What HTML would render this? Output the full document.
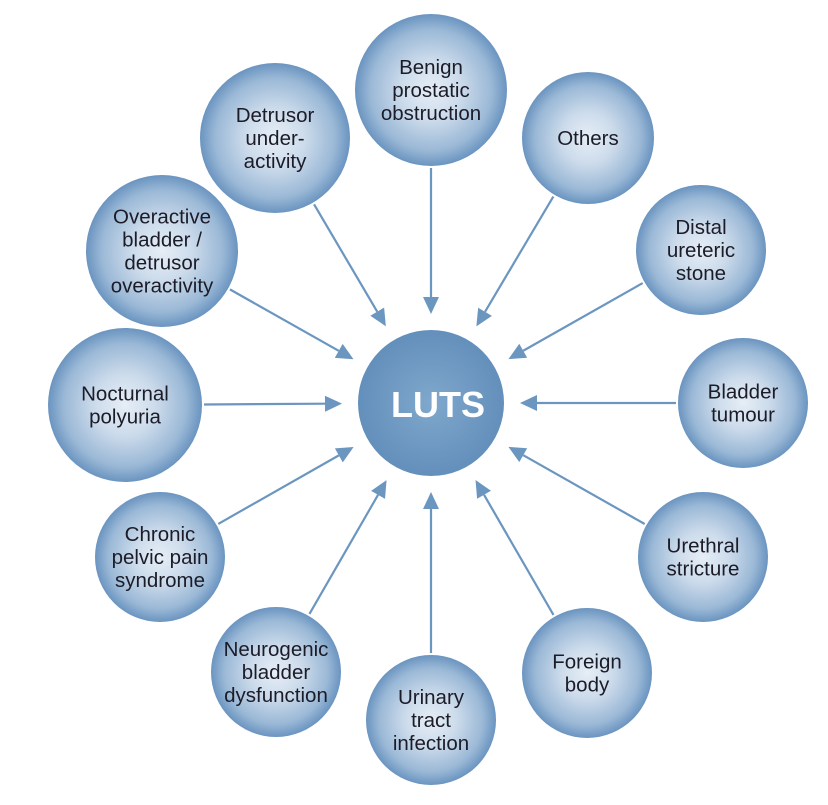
<!DOCTYPE html>
<html><head><meta charset="utf-8"><style>
html,body{margin:0;padding:0;background:#fff}
svg{display:block}
text{font-family:"Liberation Sans",Arial,sans-serif;font-size:20.5px;fill:#1c1c28;text-anchor:middle}
</style></head><body>
<svg id="s" width="828" height="805" viewBox="0 0 828 805">
<defs>
<radialGradient id="g" cx="50%" cy="50%" r="50%">
<stop offset="0%" stop-color="#e6eef6"/>
<stop offset="40%" stop-color="#ccdbeb"/>
<stop offset="80%" stop-color="#9ab8d6"/>
<stop offset="100%" stop-color="#6a94c0"/>
</radialGradient>
<radialGradient id="c" cx="50%" cy="50%" r="50%">
<stop offset="0%" stop-color="#80a8cc"/>
<stop offset="100%" stop-color="#638fbb"/>
</radialGradient>
</defs>
<g id="arrows"></g>
<g id="nodes"></g>
<circle cx="431" cy="403" r="73" fill="url(#c)"/>
<text x="438" y="417" style="font-size:36px;font-weight:bold;fill:#fff">LUTS</text>
</svg>
<script>
var C=[431,403];
var N=[
[431,90,76,["Benign","prostatic","obstruction"]],
[588,138,66,["Others"]],
[701,250,65,["Distal","ureteric","stone"]],
[743,403,65,["Bladder","tumour"]],
[703,557,65,["Urethral","stricture"]],
[587,673,65,["Foreign","body"]],
[431,720,65,["Urinary","tract","infection"]],
[276,672,65,["Neurogenic","bladder","dysfunction"]],
[160,557,65,["Chronic","pelvic pain","syndrome"]],
[125,405,77,["Nocturnal","polyuria"]],
[162,251,76,["Overactive","bladder /","detrusor","overactivity"]],
[275,138,75,["Detrusor","under-","activity"]]
];
var a="",n="";
N.forEach(function(d){
 var dx=C[0]-d[0],dy=C[1]-d[1],L=Math.hypot(dx,dy),ux=dx/L,uy=dy/L;
 var sx=d[0]+ux*(d[2]+2),sy=d[1]+uy*(d[2]+2);
 var tx=C[0]-ux*89,ty=C[1]-uy*89;
 var bx=tx-ux*17,by=ty-uy*17,px=-uy*8,py=ux*8;
 a+='<line x1="'+sx+'" y1="'+sy+'" x2="'+bx+'" y2="'+by+'" stroke="#6b96c0" stroke-width="2.2"/>';
 a+='<polygon points="'+tx+','+ty+' '+(bx+px)+','+(by+py)+' '+(bx-px)+','+(by-py)+'" fill="#6b96c0"/>';
 n+='<circle cx="'+d[0]+'" cy="'+d[1]+'" r="'+d[2]+'" fill="url(#g)"/>';
 var k=d[3].length,lh=23,y0=d[1]-(k-1)*lh/2+7;
 d[3].forEach(function(t,i){n+='<text x="'+d[0]+'" y="'+(y0+i*lh)+'">'+t+'</text>';});
});
document.getElementById("arrows").innerHTML=a;
document.getElementById("nodes").innerHTML=n;
</script>
</body></html>
